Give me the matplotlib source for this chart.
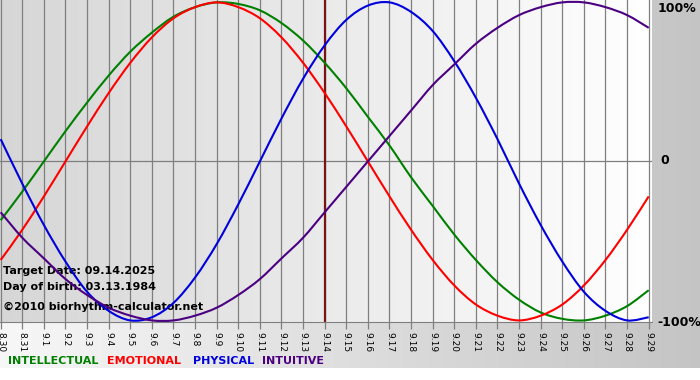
import numpy as np
import matplotlib
matplotlib.use("Agg")
import matplotlib.pyplot as plt
from matplotlib.path import Path
from matplotlib.patches import PathPatch

# Dates on the x axis (8.30 .. 9.29)
days = ["8.30", "8.31", "9.1", "9.2", "9.3", "9.4", "9.5", "9.6", "9.7", "9.8",
        "9.9", "9.10", "9.11", "9.12", "9.13", "9.14", "9.15", "9.16", "9.17",
        "9.18", "9.19", "9.20", "9.21", "9.22", "9.23", "9.24", "9.25", "9.26",
        "9.27", "9.28", "9.29"]
target_day = "9.14"

# Cycle values per day (-1 .. 1)
intellectual = [-0.37, -0.19, 0.00, 0.19, 0.37, 0.54, 0.69, 0.81, 0.91, 0.97,
                1.00, 0.99, 0.95, 0.87, 0.76, 0.62, 0.46, 0.28, 0.10, -0.10,
                -0.28, -0.46, -0.62, -0.76, -0.87, -0.95, -0.99, -1.00, -0.97,
                -0.91, -0.81]
emotional = [-0.62, -0.43, -0.22, 0.00, 0.22, 0.43, 0.62, 0.78, 0.90, 0.97,
             1.00, 0.97, 0.90, 0.78, 0.62, 0.43, 0.22, 0.00, -0.22, -0.43,
             -0.62, -0.78, -0.90, -0.97, -1.00, -0.97, -0.90, -0.78, -0.62,
             -0.43, -0.22]
physical = [0.14, -0.14, -0.40, -0.63, -0.82, -0.94, -1.00, -0.98, -0.89, -0.73,
            -0.52, -0.27, 0.00, 0.27, 0.52, 0.73, 0.89, 0.98, 1.00, 0.94,
            0.82, 0.63, 0.40, 0.14, -0.14, -0.40, -0.63, -0.82, -0.94,
            -1.00, -0.98]
intuitive = [-0.32, -0.48, -0.61, -0.74, -0.84, -0.92, -0.97, -1.00, -1.00, -0.97,
             -0.92, -0.84, -0.74, -0.61, -0.48, -0.32, -0.16, 0.00, 0.16, 0.32,
             0.48, 0.61, 0.74, 0.84, 0.92, 0.97, 1.00, 1.00, 0.97,
             0.92, 0.84]

series = [("INTELLECTUAL", intellectual, "#008000"),
          ("EMOTIONAL", emotional, "#ff0000"),
          ("PHYSICAL", physical, "#0000dd"),
          ("INTUITIVE", intuitive, "#4b0082")]


def smooth_path(xs, ys):
    # Catmull-Rom style bezier through the daily points
    xs = np.asarray(xs, float)
    ys = np.asarray(ys, float)
    pts = np.column_stack([xs, ys])
    n = len(pts)
    verts = [pts[0]]
    codes = [Path.MOVETO]
    for i in range(n - 1):
        p0 = pts[i - 1] if i > 0 else pts[i]
        p1 = pts[i]
        p2 = pts[i + 1]
        p3 = pts[i + 2] if i + 2 < n else pts[i + 1]
        c1 = p1 + (p2 - p0) / 6.0
        c2 = p2 - (p3 - p1) / 6.0
        verts += [c1, c2, p2]
        codes += [Path.CURVE4] * 3
    return Path(verts, codes)


W, H = 700, 380
fig = plt.figure(figsize=(W / 100, H / 100), dpi=100)

# Figure background: light on the left, gray on the right, white strip at bottom
bg = fig.add_axes([0, 0, 1, 1], zorder=-10)
grad = np.linspace(0.97, 0.77, 256)
img = np.tile(grad, (H, 1))
img[368:, :] = 1.0
bg.imshow(np.dstack([img] * 3), aspect="auto", extent=[0, W, H, 0])
bg.set_xlim(0, W)
bg.set_ylim(H, 0)
bg.axis("off")

# Plot area
ax_h = 322
ax = fig.add_axes([0, (H - ax_h) / H, 652 / W, ax_h / H])
x = np.arange(len(days))
xmin, xmax = -0.032, len(days) - 1 + 0.153
ymin, ymax = -1.01, 1.015
ax.set_xlim(xmin, xmax)
ax.set_ylim(ymin, ymax)

pgrad = np.linspace(0.84, 1.0, 256)
pimg = np.tile(pgrad, (10, 1))
ax.imshow(np.dstack([pimg] * 3), aspect="auto",
          extent=[xmin, xmax, ymin, ymax], zorder=0)

for xi in x:
    ax.axvline(xi, color="#7f7f7f", lw=0.9, zorder=1)
ax.axhline(0, color="#7f7f7f", lw=0.9, zorder=1)

# Info text (drawn under the curves)
info = ["Target Date: 09.14.2025", "Day of birth: 03.13.1984",
        "\u00a92010 biorhythm-calculator.net"]
info_y = [271, 287, 307]
for txt, py in zip(info, info_y):
    ax.text(3 / W, 1 - py / H, txt, transform=fig.transFigure, fontsize=8,
            fontweight="bold", color="black", va="center", zorder=2)

ax.axvline(days.index(target_day), color="#7a1414", lw=1.6, zorder=3)

for name, vals, col in series:
    patch = PathPatch(smooth_path(x, vals), facecolor="none", edgecolor=col,
                      lw=1.5, zorder=4)
    ax.add_patch(patch)

ax.set_xticks(x)
ax.set_xticklabels(days, rotation=-90, fontsize=6.5)
ax.tick_params(axis="x", length=5, width=0.9, color="#7f7f7f", pad=2)
ax.set_yticks([])
for side in ["top", "left", "right"]:
    ax.spines[side].set_visible(False)
ax.spines["bottom"].set_color("#7f7f7f")

# Right-hand percent labels
fig.text(658 / W, 1 - 8 / H, "100%", fontsize=9, fontweight="bold", va="center")
fig.text(660 / W, 1 - 161 / H, "0", fontsize=9, fontweight="bold", va="center")
fig.text(657 / W, 1 - 322 / H, "-100%", fontsize=9, fontweight="bold", va="center")

# Legend line at the bottom
legend_x = [8, 107, 193, 262]
for (name, vals, col), lx in zip(series, legend_x):
    fig.text(lx / W, 1 - 361 / H, name, fontsize=8, fontweight="bold",
             color=col, va="center")

fig.savefig("out.png", dpi=100)
